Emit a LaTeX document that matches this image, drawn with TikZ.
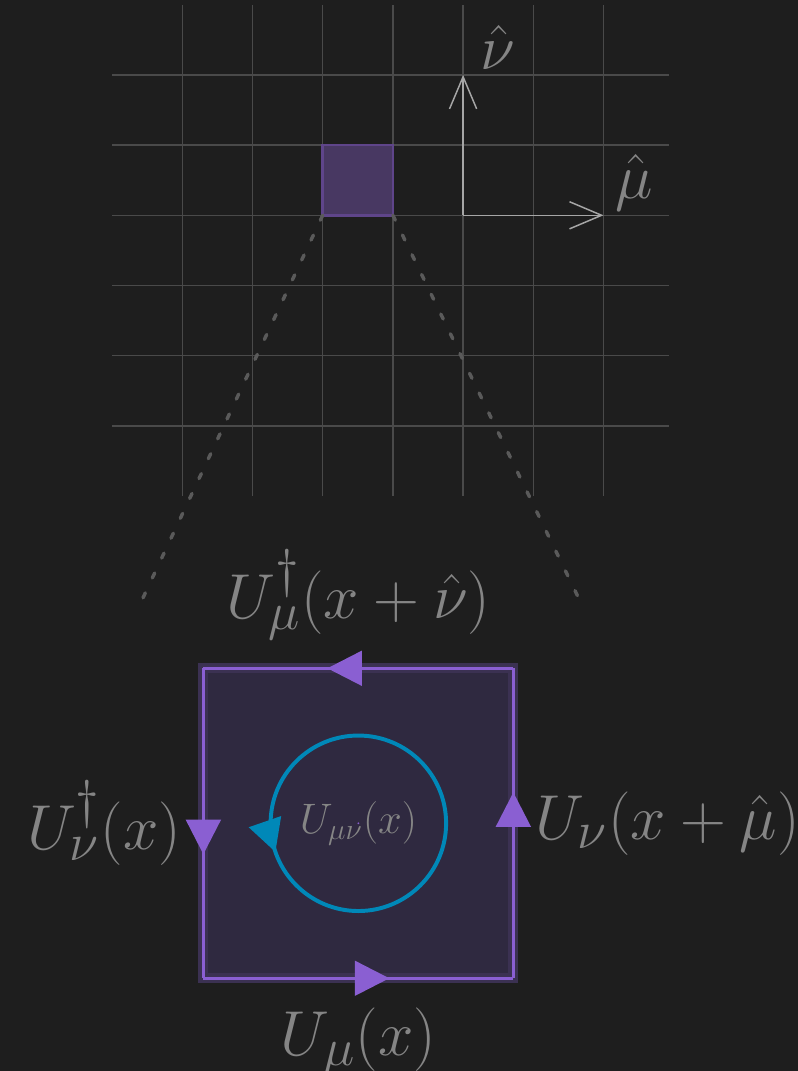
\documentclass[tikz,border=0pt]{standalone}
\usepackage{amsmath}
\usetikzlibrary{
  arrows.meta,
  positioning,
  calc,
  decorations.markings
}
\definecolor{BgDark}{HTML}{1E1E1E}
\definecolor{GridGray}{HTML}{4A4A4A}
\definecolor{AxisGray}{HTML}{A6A6A6}
\definecolor{TextGray}{HTML}{858585}
\definecolor{ZoomGray}{HTML}{5A5A5A}
\definecolor{LinkPurple}{HTML}{8A5FD2}
\definecolor{CellFill}{HTML}{483862}
\definecolor{PlaqFill}{HTML}{2F2940}
\definecolor{PlaqRim}{HTML}{3B3152}
\definecolor{LoopBlue}{HTML}{0088B8}
\tikzset{
  % Lattice grid line
  gridln/.style={draw=GridGray, line width=0.6pt},
  % Unit vector arrow
  axis/.style={
    -{Straight Barb[length=13pt,width=11pt]},
    draw=AxisGray, line width=0.6pt
  },
  % Dotted zoom guide
  zoomln/.style={
    draw=ZoomGray, line width=1.4pt,
    line cap=round, dash pattern=on 2.2pt off 6.7pt
  },
  % Link variable, arrow half way
  link/.style={
    draw=LinkPurple, line width=1.3pt,
    postaction={decorate},
    decoration={markings,
      mark=at position #1 with {\arrow{Triangle[length=14pt,width=14pt]}}}
  },
  link/.default=0.6,
  % Oriented loop
  loopln/.style={
    draw=LoopBlue, line width=1.6pt,
    postaction={decorate},
    decoration={markings,
      mark=at position 0.553 with {\arrow{Triangle[length=13pt,width=13.5pt]}}}
  },
  % Link label
  lbl/.style={font=\Huge, text=TextGray, inner sep=0pt, scale=1.035, transform shape}
}

\begin{document}
\begin{tikzpicture}
  \useasboundingbox[fill=BgDark] (-4.597,3.067) rectangle (6.77,-12.19);

  % lattice
  \foreach \y in {-3,...,2}
    \draw[gridln] (-3,\y) -- (4.93,\y);
  \foreach \x in {-2,...,4}
    \draw[gridln] (\x,-4) -- (\x,3);
  \draw[fill=CellFill, draw=LinkPurple!60!BgDark, line width=1pt] (0,0) rectangle (1,1);

  % unit vectors
  \coordinate (o) at (2,0);
  \coordinate (mu) at (4,0);
  \coordinate (nu) at (2,2);
  \draw[axis] (o) -- (mu);
  \draw[axis] (o) -- (nu);
  \node[lbl] (mulbl) at (4.44,0.47) {$\hat{\mu}$};
  \node[lbl] (nulbl) at (2.49,2.39) {$\hat{\nu}$};

  % zoom guides
  \coordinate (c0) at (0,0);
  \coordinate (c1) at (1,0);
  \coordinate (g0) at (-2.56,-5.45);
  \coordinate (g1) at (3.63,-5.42);
  \draw[zoomln] (c0) -- (g0);
  \draw[zoomln] (c1) -- (g1);

  % plaquette
  \coordinate (x00) at (-1.70,-10.869);
  \coordinate (x10) at (2.716,-10.869);
  \coordinate (x11) at (2.716,-6.453);
  \coordinate (x01) at (-1.70,-6.453);
  \coordinate (pc) at ($(x00)!0.5!(x11)$);
  \coordinate (bm) at ($(x00)!0.5!(x10)$);
  \coordinate (rm) at ($(x10)!0.5!(x11)$);
  \coordinate (tm) at ($(x11)!0.5!(x01)$);
  \coordinate (lm) at ($(x01)!0.5!(x00)$);
  \fill[PlaqFill, draw=PlaqRim, line width=4pt] (x00) rectangle (x11);
  \draw[link] (x00) -- (x10);
  \draw[link] (x10) -- (x11);
  \draw[link] (x11) -- (x01);
  \draw[link] (x01) -- (x00);

  \node[lbl, below=0.42 of bm] (lb) {$U_{\mu}(x)$};
  \node[lbl, right=0.31 of rm] (lr) {$U_{\nu}(x+\hat{\mu})$};
  \node[lbl, above=0.40 of tm] (lt) {$U^{\dagger}_{\mu}(x+\hat{\nu})$};
  \node[lbl, left=0.31 of lm] (ll) {$U^{\dagger}_{\nu}(x)$};

  % loop
  \draw[loopln] (pc) ++(1.25,0) arc[start angle=0, end angle=360, radius=1.25];
  \node[font=\LARGE, text=TextGray] (pl) at (pc) {$U_{\mu\nu}(x)$};
  \fill[LinkPurple] (pc) circle (0.4pt);
\end{tikzpicture}
\end{document}
